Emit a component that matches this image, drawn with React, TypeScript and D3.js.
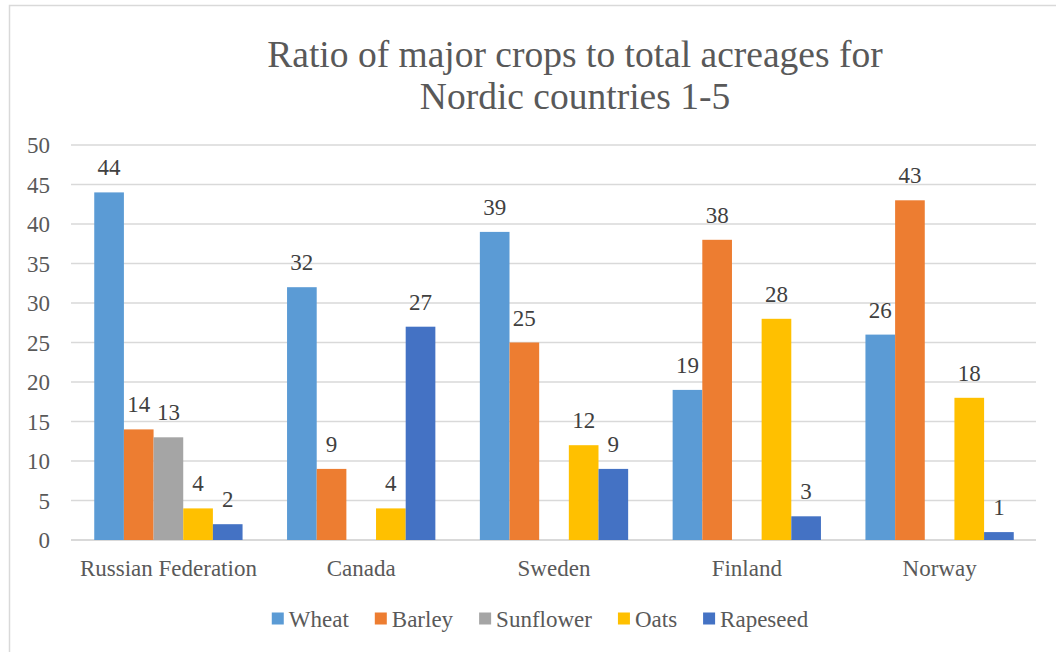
import React from "react";
import * as d3 from "d3";

const countries = ["Russian Federation", "Canada", "Sweden", "Finland", "Norway"];
const crops = ["Wheat", "Barley", "Sunflower", "Oats", "Rapeseed"];
const cropColors = ["#5B9BD5", "#ED7D31", "#A5A5A5", "#FFC000", "#4472C4"];

const wheat = [44, 32, 39, 19, 26];
const barley = [14, 9, 25, 38, 43];
const sunflower: (number | null)[] = [13, null, null, null, null];
const oats = [4, 4, 12, 28, 18];
const rapeseed = [2, 27, 9, 3, 1];

const yTicks = [0, 5, 10, 15, 20, 25, 30, 35, 40, 45, 50];
const titleLines = ["Ratio of major crops to total acreages for", "Nordic countries 1-5"];

const seriesValues = [wheat, barley, sunflower, oats, rapeseed];

const W = 1056;
const H = 652;
const FONT = "Liberation Serif";

// Times-style advance widths, used to lay out the legend row
const charW: Record<string, number> = {
  W: 0.944, h: 0.5, e: 0.444, a: 0.444, t: 0.278, B: 0.667, r: 0.333, l: 0.278, y: 0.5,
  S: 0.556, u: 0.5, n: 0.5, f: 0.333, o: 0.5, w: 0.722, O: 0.722, s: 0.389, R: 0.667,
  p: 0.5, d: 0.5,
};
const textWidth = (s: string, size: number) =>
  s.split("").reduce((acc, c) => acc + (charW[c] ?? 0.5), 0) * size;

export default function App() {
  const plot = { left: 72, right: 1036, top: 145, bottom: 540 };

  const x0 = d3
    .scaleBand<string>()
    .domain(countries)
    .range([plot.left, plot.right])
    .paddingInner(1.5 / 6.5)
    .paddingOuter(0.75 / 6.5);

  const x1 = d3.scaleBand<string>().domain(crops).range([0, x0.bandwidth()]).padding(0);

  const y = d3.scaleLinear().domain([0, 50]).range([plot.bottom, plot.top]);

  const legendSize = 23;
  const swatch = 12;
  const itemGap = 26;
  const swGap = 5;
  const itemWidths = crops.map((c) => swatch + swGap + textWidth(c, legendSize));
  const legendTotal = d3.sum(itemWidths) + itemGap * (crops.length - 1);
  const legendStart = 540 - legendTotal / 2;
  const legendX: number[] = [];
  let acc = legendStart;
  itemWidths.forEach((w) => {
    legendX.push(acc);
    acc += w + itemGap;
  });

  const txt = { fontFamily: FONT };

  return (
    <svg width={W} height={H} style={{ position: "absolute", left: 0, top: 0, background: "#fff" }}>
      <rect x={9.5} y={5.5} width={1200} height={800} fill="#fff" stroke="#d9d9d9" strokeWidth={1.5} />

      {titleLines.map((line, i) => (
        <text
          key={line}
          x={575}
          y={67 + i * 42}
          textAnchor="middle"
          fontSize={37.5}
          fill="#595959"
          style={txt}
        >
          {line}
        </text>
      ))}

      {yTicks.map((t) => (
        <g key={t}>
          <line
            x1={plot.left - 1}
            x2={plot.right}
            y1={y(t)}
            y2={y(t)}
            stroke="#d9d9d9"
            strokeWidth={t === 0 ? 2 : 1.3}
          />
          <text x={50} y={y(t)} dy="0.35em" textAnchor="end" fontSize={23} fill="#595959" style={txt}>
            {t}
          </text>
        </g>
      ))}

      {countries.map((c, ci) => (
        <g key={c} transform={`translate(${x0(c)},0)`}>
          {crops.map((crop, si) => {
            const v = seriesValues[si][ci];
            if (v == null) return null;
            const bx = x1(crop)!;
            return (
              <g key={crop}>
                <rect
                  x={bx}
                  y={y(v)}
                  width={x1.bandwidth()}
                  height={y(0) - y(v)}
                  fill={cropColors[si]}
                />
                <text
                  x={bx + x1.bandwidth() / 2}
                  y={y(v) - 17}
                  textAnchor="middle"
                  fontSize={23}
                  fill="#404040"
                  style={txt}
                >
                  {v}
                </text>
              </g>
            );
          })}
          <text
            x={x0.bandwidth() / 2}
            y={576}
            textAnchor="middle"
            fontSize={23}
            fill="#595959"
            style={txt}
          >
            {c}
          </text>
        </g>
      ))}

      {crops.map((crop, i) => (
        <g key={crop} transform={`translate(${legendX[i]},0)`}>
          <rect x={0} y={612.5} width={swatch} height={swatch} fill={cropColors[i]} />
          <text x={swatch + swGap} y={626.5} fontSize={legendSize} fill="#595959" style={txt}>
            {crop}
          </text>
        </g>
      ))}
    </svg>
  );
}
